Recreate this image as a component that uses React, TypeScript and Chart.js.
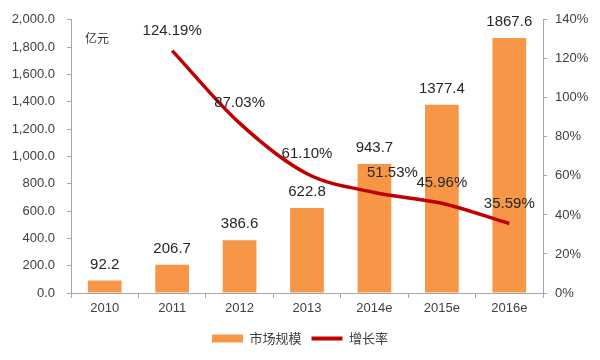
import React, { useEffect, useRef } from "react";
import { Chart, registerables } from "chart.js";

Chart.register(...registerables);

const categories = ["2010", "2011", "2012", "2013", "2014e", "2015e", "2016e"];
const marketSize = [92.2, 206.7, 386.6, 622.8, 943.7, 1377.4, 1867.6];
const growthRate = [null, 124.19, 87.03, 61.1, 51.53, 45.96, 35.59];
const seriesNames = ["市场规模", "增长率"];
const unitLabel = "亿元";

const BAR_COLOR = "#F79646";
const LINE_COLOR = "#C00000";
const AXIS_COLOR = "#A6A6A6";
const TEXT_COLOR = "#404040";

const labelPlugin = {
  id: "valueLabels",
  afterDatasetsDraw(chart: any) {
    const ctx = chart.ctx;
    ctx.save();
    ctx.font = "15px 'Liberation Sans', Arial, sans-serif";
    ctx.fillStyle = "#262626";
    ctx.textAlign = "center";
    ctx.textBaseline = "middle";
    const barMeta = chart.getDatasetMeta(0);
    barMeta.data.forEach((el: any, i: number) => {
      const v = marketSize[i];
      ctx.fillText(v.toFixed(1), el.x, el.y - 16);
    });
    const lineMeta = chart.getDatasetMeta(1);
    const dx: Record<number, number> = { 4: 18 };
    lineMeta.data.forEach((el: any, i: number) => {
      const v = growthRate[i];
      if (v == null) return;
      ctx.fillText(v.toFixed(2) + "%", el.x + (dx[i] || 0), el.y - 20);
    });
    // unit label
    ctx.font = "12px 'Noto Sans CJK SC', sans-serif";
    ctx.fillStyle = "#333";
    ctx.textAlign = "left";
    ctx.fillText(unitLabel, chart.chartArea.left + 14, chart.chartArea.top + 19);
    ctx.restore();
  },
};

export default function App() {
  const ref = useRef<HTMLCanvasElement>(null);
  useEffect(() => {
    if (!ref.current) return;
    const tickFont = { family: "'Liberation Sans', Arial, sans-serif", size: 13 };
    const chart = new Chart(ref.current, {
      type: "bar",
      data: {
        labels: categories,
        datasets: [
          {
            type: "bar",
            label: seriesNames[0],
            data: marketSize,
            backgroundColor: BAR_COLOR,
            borderWidth: 0,
            barPercentage: 0.5,
            categoryPercentage: 1,
            yAxisID: "y",
            order: 2,
          } as any,
          {
            type: "line",
            label: seriesNames[1],
            data: growthRate,
            borderColor: LINE_COLOR,
            backgroundColor: LINE_COLOR,
            borderWidth: 3.5,
            pointRadius: 0,
            tension: 0.35,
            cubicInterpolationMode: "monotone",
            yAxisID: "y1",
            order: 1,
          } as any,
        ],
      },
      options: {
        responsive: false,
        animation: false,
        layout: { padding: { top: 17, bottom: 5, left: 0, right: 0 } },
        plugins: {
          tooltip: { enabled: false },
          legend: {
            position: "bottom",
            labels: {
              usePointStyle: true,
              pointStyleWidth: 31,
              boxHeight: 8,
              padding: 10,
              color: TEXT_COLOR,
              font: { family: "'Noto Sans CJK SC', sans-serif", size: 13 },
              sort: (a: any, b: any) => a.datasetIndex - b.datasetIndex,
              generateLabels: (chart: any) => {
                const items = Chart.defaults.plugins.legend.labels.generateLabels(chart);
                return items.map((it: any) => {
                  if (it.datasetIndex === 0) {
                    return { ...it, pointStyle: "rect", lineWidth: 0, strokeStyle: BAR_COLOR };
                  }
                  return { ...it, pointStyle: "line", lineWidth: 4, strokeStyle: LINE_COLOR };
                });
              },
            },
          },
        },
        scales: {
          x: {
            grid: {
              display: true,
              drawOnChartArea: false,
              drawTicks: true,
              tickLength: 5,
              color: AXIS_COLOR,
              offset: true,
            },
            border: { color: AXIS_COLOR },
            ticks: { color: TEXT_COLOR, font: tickFont, padding: 3, maxRotation: 0 },
            afterFit: (s: any) => {
              s.height = 29;
            },
          },
          y: {
            position: "left",
            min: 0,
            max: 2000,
            grid: { drawOnChartArea: false, drawTicks: true, tickLength: 4, color: AXIS_COLOR },
            border: { color: AXIS_COLOR },
            ticks: {
              stepSize: 200,
              color: TEXT_COLOR,
              font: tickFont,
              padding: 12,
              callback: (v: any) =>
                Number(v).toLocaleString("en-US", { minimumFractionDigits: 1, maximumFractionDigits: 1 }),
            },
            afterFit: (s: any) => {
              s.width = 71;
            },
          },
          y1: {
            position: "right",
            min: 0,
            max: 140,
            grid: { drawOnChartArea: false, drawTicks: true, tickLength: 4, color: AXIS_COLOR },
            border: { color: AXIS_COLOR },
            ticks: {
              stepSize: 20,
              color: TEXT_COLOR,
              font: tickFont,
              padding: 8,
              callback: (v: any) => v + "%",
            },
            afterFit: (s: any) => {
              s.width = 57;
            },
          },
        },
      },
      plugins: [labelPlugin],
    });
    return () => chart.destroy();
  }, []);
  return (
    <div style={{ position: "fixed", left: 0, top: 0, width: 600, height: 360, background: "#fff" }}>
      <canvas ref={ref} width={600} height={360} style={{ width: 600, height: 360 }} />
    </div>
  );
}
